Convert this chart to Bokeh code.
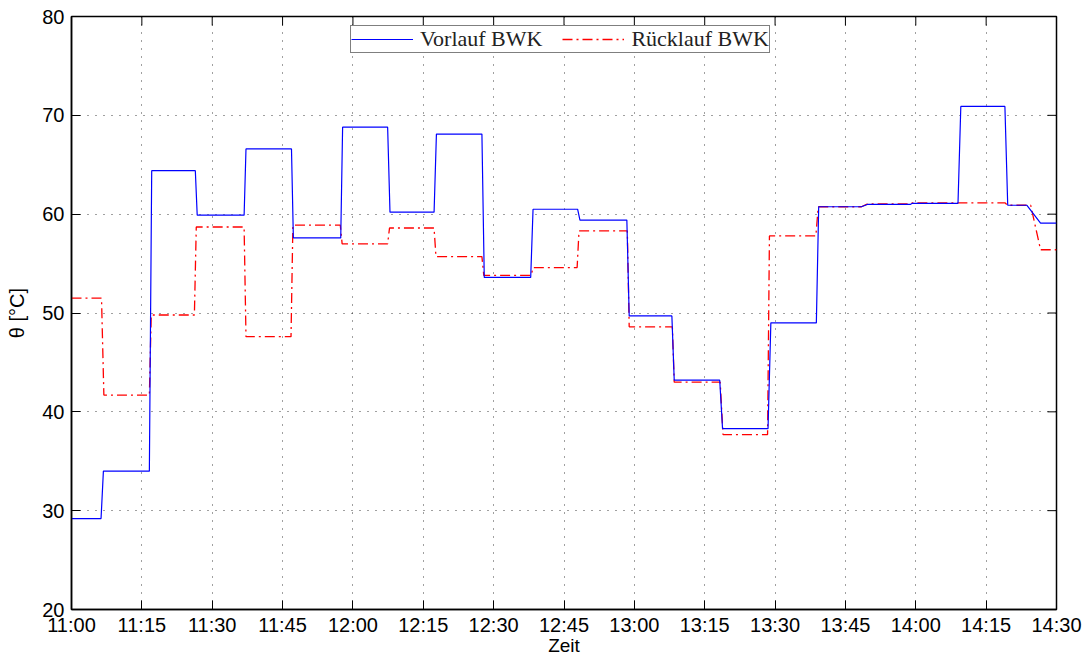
import math

from bokeh.plotting import figure
from bokeh.models import ColumnDataSource, FixedTicker, Legend, LegendItem
from bokeh.embed import file_html
from bokeh.resources import INLINE

# Time in minutes after 11:00, temperatures in °C
t_vorlauf = [0, 6.3, 6.8, 16.6, 17.1, 26.4, 26.8, 36.8, 37.2, 46.9, 47.3, 57.4,
             57.8, 67.4, 67.9, 77.3, 77.8, 87.5, 88.0, 97.9, 98.4, 107.9, 108.4,
             118.4, 118.9, 128.0, 128.5, 138.2, 138.8, 148.5, 149.1, 158.8, 159.3,
             168.4, 169.8, 178.9, 179.3, 189.0, 189.6, 199.0, 199.6, 203.7, 206.6,
             210]
vorlauf = [29.2, 29.2, 34.0, 34.0, 64.4, 64.4, 59.9, 59.9, 66.6, 66.6, 57.6, 57.6,
           68.8, 68.8, 60.2, 60.2, 68.1, 68.1, 53.6, 53.6, 60.5, 60.5, 59.4,
           59.4, 49.7, 49.7, 43.2, 43.2, 38.3, 38.3, 49.0, 49.0, 60.75,
           60.75, 61.0, 61.0, 61.1, 61.1, 70.9, 70.9, 60.9, 60.9, 59.1,
           59.1]

t_ruecklauf = [0, 6.4, 6.9, 16.6, 17.0, 26.2, 26.6, 36.8, 37.2, 46.8, 47.2, 57.3,
               57.7, 67.4, 67.8, 77.3, 77.7, 87.5, 87.9, 98.0, 98.4, 107.8, 108.2,
               118.5, 118.9, 128.1, 128.5, 138.3, 138.9, 148.4, 148.8, 158.7, 159.2,
               168.4, 169.8, 178.9, 179.3, 199.0, 199.6, 204.5, 206.6, 210]
ruecklauf = [51.5, 51.5, 41.7, 41.7, 49.8, 49.8, 58.7, 58.7, 47.6, 47.6, 58.9, 58.9,
             57.0, 57.0, 58.6, 58.6, 55.7, 55.7, 53.8, 53.8, 54.6, 54.6, 58.3,
             58.3, 48.6, 48.6, 43.0, 43.0, 37.7, 37.7, 57.8, 57.8, 60.75,
             60.75, 61.05, 61.05, 61.15, 61.15, 60.9, 60.9, 56.4, 56.4]

tick_minutes = [0, 15, 30, 45, 60, 75, 90, 105, 120, 135, 150, 165, 180, 195, 210]
tick_labels = ["11:00", "11:15", "11:30", "11:45", "12:00", "12:15", "12:30",
               "12:45", "13:00", "13:15", "13:30", "13:45", "14:00", "14:15",
               "14:30"]
y_ticks = [20, 30, 40, 50, 60, 70, 80]

FONT = "Liberation Sans"
X_MIN, X_MAX = tick_minutes[0], tick_minutes[-1]
Y_MIN, Y_MAX = y_ticks[0], y_ticks[-1]
TICK_LEN = 9

p = figure(width=1086, height=658, x_range=(X_MIN, X_MAX), y_range=(Y_MIN, Y_MAX),
           output_backend="svg", toolbar_location=None,
           min_border_left=71, min_border_right=30, min_border_top=16,
           min_border_bottom=49)
p.background_fill_color = "white"
p.border_fill_color = "white"
p.outline_line_color = "black"
p.outline_line_width = 1.5

src_v = ColumnDataSource(dict(t=t_vorlauf, v=vorlauf))
src_r = ColumnDataSource(dict(t=t_ruecklauf, v=ruecklauf))

r_red = p.line("t", "v", source=src_r, line_color="#ff0000", line_width=1.3,
               line_dash="10 4 2 4")
r_blue = p.line("t", "v", source=src_v, line_color="#0000ff", line_width=1.2)

# Inward ticks on the top and right edges of the box
p.ray(x=tick_minutes, y=[Y_MAX] * len(tick_minutes), length=TICK_LEN,
      length_units="screen", angle=-math.pi / 2, line_color="black", line_width=1)
p.ray(x=[X_MAX] * len(y_ticks), y=y_ticks, length=TICK_LEN,
      length_units="screen", angle=math.pi, line_color="black", line_width=1)

# Axes: ticks pointing inward
xt = FixedTicker(ticks=tick_minutes)
yt = FixedTicker(ticks=y_ticks)
for ax in (p.xaxis[0], p.yaxis[0]):
    ax.major_tick_in = TICK_LEN
    ax.major_tick_out = 0
    ax.minor_tick_line_color = None
    ax.axis_line_color = "black"
    ax.axis_line_width = 1.5
    ax.major_tick_line_color = "black"
    ax.major_label_text_font = FONT
    ax.major_label_text_font_size = "20px"
    ax.major_label_text_color = "black"
    ax.axis_label_text_font = FONT
    ax.axis_label_text_font_size = "20px"
    ax.axis_label_text_font_style = "normal"
    ax.axis_label_text_color = "black"

p.xaxis.ticker = xt
p.xaxis.major_label_overrides = {m: s for m, s in zip(tick_minutes, tick_labels)}
p.xaxis.axis_label = "Zeit"
p.xaxis.axis_label_text_font_size = "19px"
p.xaxis.major_label_standoff = 4
p.xaxis.axis_label_standoff = -4
p.yaxis.ticker = yt
p.yaxis.axis_label = "θ [°C]"
p.yaxis.major_label_standoff = 7
p.yaxis.axis_label_standoff = 11

# Dotted grid
p.xgrid.ticker = xt
p.ygrid.ticker = yt
for g in (p.xgrid[0], p.ygrid[0]):
    g.grid_line_color = "black"
    g.grid_line_alpha = 0.75
    g.grid_line_dash = "1 7"
    g.grid_line_width = 1

legend = Legend(items=[LegendItem(label="Vorlauf BWK", renderers=[r_blue]),
                       LegendItem(label="Rücklauf BWK", renderers=[r_red])],
                orientation="horizontal", location=(279, 556))
legend.label_text_font = "Liberation Serif"
legend.label_text_font_size = "22px"
legend.label_text_color = "#222222"
legend.border_line_color = "black"
legend.border_line_width = 1.5
legend.background_fill_color = "white"
legend.background_fill_alpha = 1
legend.glyph_width = 62
legend.glyph_height = 14
legend.label_height = 14
legend.label_standoff = 7
legend.spacing = 20
legend.padding = 0
legend.margin = 0
p.add_layout(legend, "center")

open("out.html", "w").write(file_html(p, INLINE))
